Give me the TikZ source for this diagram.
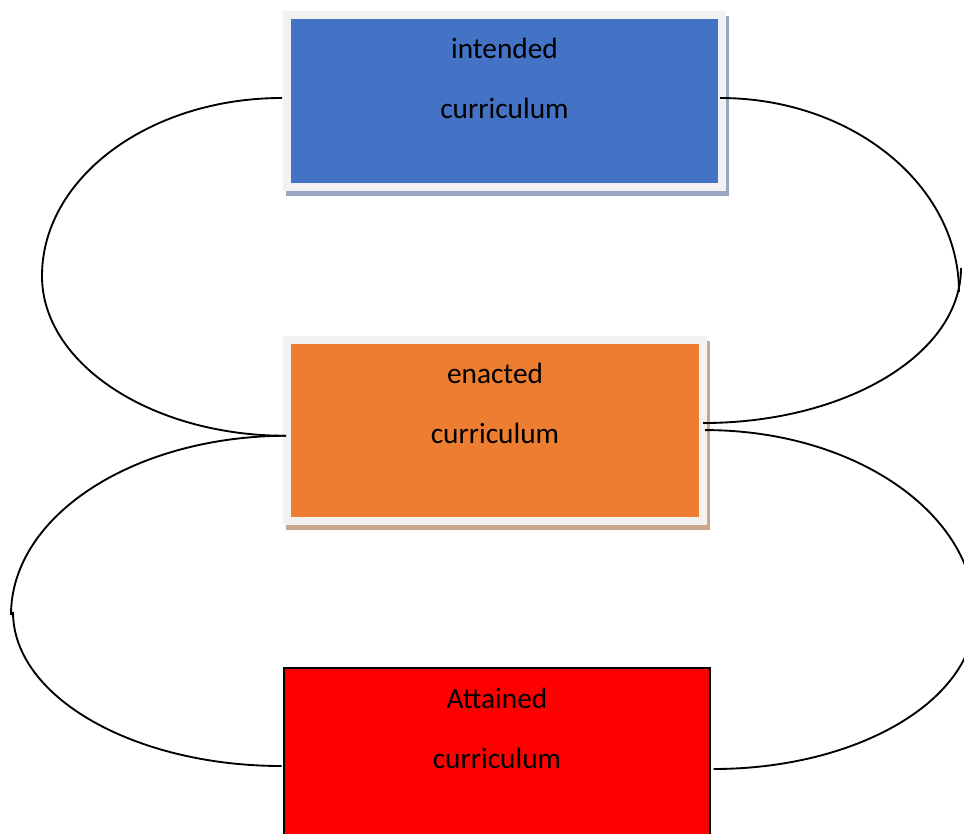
\documentclass[tikz,border=0pt]{standalone}
\usepackage{fontspec}
\setmainfont{Carlito}
\usetikzlibrary{positioning}
\definecolor{intendedblue}{HTML}{4472C4}
\definecolor{enactedorange}{HTML}{ED7D31}
\definecolor{framegray}{HTML}{F2F2F2}
\definecolor{blueshade}{HTML}{9AA6C0}
\definecolor{orangeshade}{HTML}{C9A68D}
\begin{document}
\begin{tikzpicture}[x=0.75pt,y=-0.75pt,
   framed/.style={draw=framegray,line width=6pt,inner sep=0pt,
     preaction={draw=#1,fill=#1,line width=6pt,
       transform canvas={xshift=2.25pt,yshift=-3.75pt}}},
   lbl/.style={align=center,inner sep=0pt,font=\fontsize{22}{45}\selectfont},
   link/.style={line width=1.4pt}]
   \useasboundingbox (0,0) rectangle (964,834);
   \clip (0,0) rectangle (964,834);
   % the three boxes
   \node[framed=blueshade,fill=intendedblue,minimum width=326.25pt,minimum height=129pt]
     (intended) at (504.5,101) {};
   \node[framed=orangeshade,fill=enactedorange,minimum width=312pt,minimum height=136.1pt]
     (enacted) at (495,430.75) {};
   \node[draw=black,line width=1.3pt,fill=red,inner sep=0pt,minimum width=319.5pt,minimum height=148.5pt]
     (attained) at (497,767) {};
   \node[lbl,below=20pt of intended.north] (intendedtxt) {intended\\curriculum};
   \node[lbl,below=20.5pt of enacted.north]  (enactedtxt)  {enacted\\curriculum};
   \node[lbl,below=15.5pt of attained.north] (attainedtxt) {Attained\\curriculum};
   % loose ends where the loops meet
   \coordinate (rtA) at (959,292);
   \coordinate (rtB) at (961,268);
   \coordinate (lbA) at (11,615);
   \coordinate (lbB) at (13,612);
   % loops
   \draw[link] ([xshift=-0.75pt,yshift=2.25pt]intended.west) .. controls (149,98) and (42,178) .. (42,276)
     .. controls (42,364) and (152,436) .. ([xshift=2.25pt,yshift=-3.75pt]enacted.west);
   \draw[link] ([xshift=-4.5pt,yshift=2.25pt]intended.east) .. controls (852,98) and (959,185) .. (rtA);
   \draw[link] (rtB) .. controls (961,354) and (846,423) .. ([xshift=-3pt,yshift=5.8pt]enacted.east);
   \draw[link] ([xshift=-1.5pt,yshift=0.5pt]enacted.east) .. controls (854,430) and (975,513) .. (975,615)
     .. controls (975,700) and (858,769) .. ([xshift=2pt,yshift=-1.5pt]attained.east);
   \draw[link] ([xshift=2.25pt,yshift=-3.75pt]enacted.west) .. controls (135,436) and (11,515) .. (lbA);
   \draw[link] (lbB) .. controls (13,697) and (134,766) .. ([xshift=-1.2pt,yshift=0.75pt]attained.west);
\end{tikzpicture}
\end{document}
